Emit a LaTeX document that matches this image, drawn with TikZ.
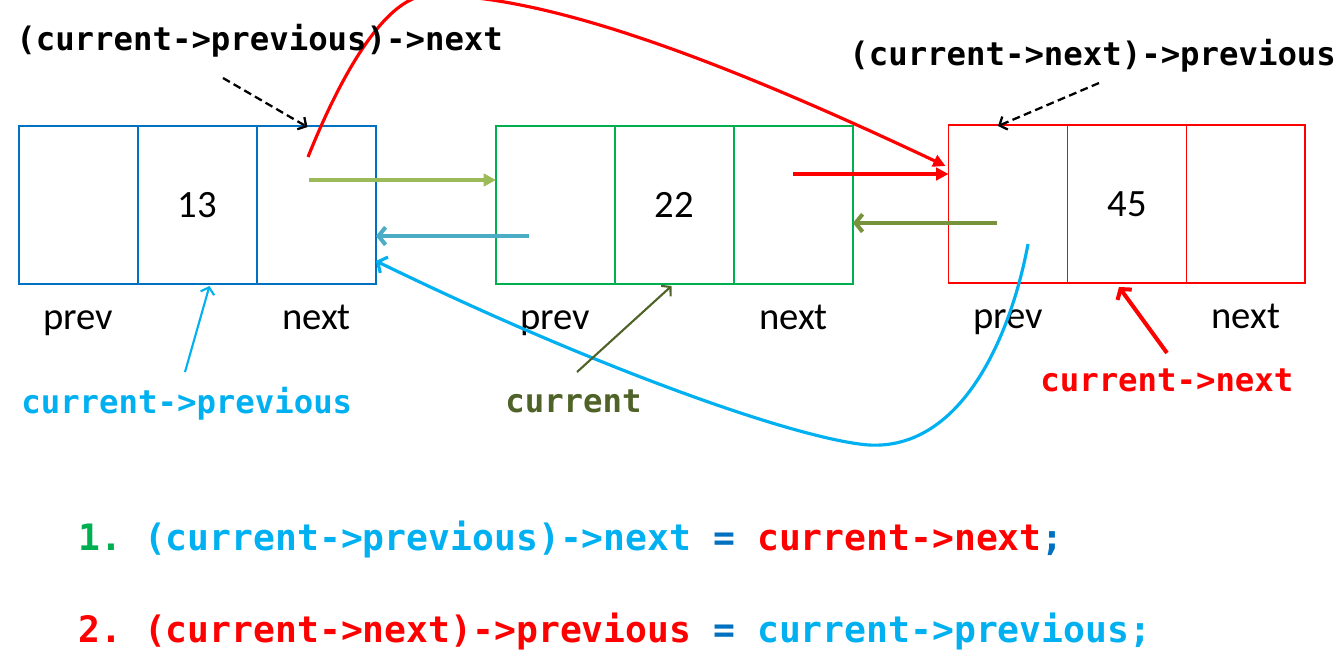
\documentclass[tikz,border=0pt]{standalone}
\usepackage{fontspec}
\setmainfont{Carlito}
\setmonofont{DejaVu Sans Mono}
\usepackage{tikz}
\usetikzlibrary{positioning}
\usetikzlibrary{calc}
\usetikzlibrary{arrows.meta}

\definecolor{boxblue}{HTML}{0070C0}
\definecolor{boxgreen}{HTML}{00B050}
\definecolor{skyblue}{HTML}{00B0F0}
\definecolor{ptrolive}{HTML}{4F6228}
\definecolor{arrgreen}{HTML}{9BBB59}
\definecolor{arrteal}{HTML}{4BACC6}
\definecolor{arrolive}{HTML}{77933C}

\tikzset{
    cell/.style={draw,minimum width=2.38cm,minimum height=3.16cm,
        inner sep=0pt,outer sep=0pt,line width=1.1pt,
        font=\fontsize{22}{26}\selectfont},
    fieldlbl/.style={anchor=base,inner sep=0pt,
        font=\fontsize{22}{26}\selectfont},
    code/.style={anchor=base west,inner sep=0pt,
        font=\ttfamily\bfseries\fontsize{18.4}{22}\selectfont},
    codebig/.style={anchor=base west,inner sep=0pt,
        font=\ttfamily\bfseries\fontsize{20.7}{25}\selectfont},
    linkfill/.style={line width=2.3pt,-{Triangle[length=7pt,width=7pt]}},
    linkopen/.style={line width=2.3pt,-{Straight Barb[length=4pt,width=10pt]}},
    curvelink/.style={line width=1.8pt},
    thinptr/.style={line width=1.2pt,-{Straight Barb[length=3.5pt,width=8pt]}},
    dashptr/.style={line width=1.3pt,dash pattern=on 4.5pt off 2.5pt,
        -{Straight Barb[length=3.5pt,width=8pt]}}
}

\begin{document}
\begin{tikzpicture}[x=0.02cm,y=-0.02cm]
    \useasboundingbox (0,0) rectangle (1344,664);

    % Node 13
    \node[cell,draw=boxblue] (n13prev) at (78.5,205) {};
    \node[cell,draw=boxblue,right=0pt of n13prev] (n13data) {13};
    \node[cell,draw=boxblue,right=0pt of n13data] (n13next) {};
    % Node 22
    \node[cell,draw=boxgreen] (n22prev) at (555.5,205) {};
    \node[cell,draw=boxgreen,right=0pt of n22prev] (n22data) {22};
    \node[cell,draw=boxgreen,right=0pt of n22data] (n22next) {};
    % Node 45
    \node[cell,draw=red] (n45prev) at (1008,204) {};
    \node[cell,draw=red,right=0pt of n45prev] (n45data) {45};
    \node[cell,draw=red,right=0pt of n45data] (n45next) {};

    % Field names
    \node[fieldlbl] (f13prev) at ($(n13prev.south)+(0,46)$) {prev};
    \node[fieldlbl] (f13next) at ($(n13next.south)+(0,46)$) {next};
    \node[fieldlbl] (f22prev) at ($(n22prev.south)+(0,46)$) {prev};
    \node[fieldlbl] (f22next) at ($(n22next.south)+(0,46)$) {next};
    \node[fieldlbl] (f45prev) at ($(n45prev.south)+(0,46)$) {prev};
    \node[fieldlbl] (f45next) at ($(n45next.south)+(0,46)$) {next};

    % Old links
    \coordinate (g13) at (309,180);
    \draw[linkfill,arrgreen] (g13) -- (g13 -| n22prev.west);
    \coordinate (t22) at (529,236);
    \draw[linkopen,arrteal] (t22) -- (t22 -| n13next.east);
    \coordinate (r22) at (793,174);
    \draw[linkfill,red] (r22) -- (r22 -| n45prev.west);
    \coordinate (o45) at (997,223);
    \draw[linkopen,arrolive] (o45) -- (o45 -| n22next.east);

    % New links
    \coordinate (rc13) at (308,157);
    \draw[curvelink,red,-{Triangle[length=7pt,width=7pt]}] (rc13)
        .. controls (332,97) and (380,-5) .. (430,-5)
        .. controls (540,-5) and (700,50) .. ($(n45prev.west)+(-3,-38)$);
    \coordinate (bc45) at (1028,244);
    \draw[curvelink,skyblue,-{Straight Barb[length=4pt,width=10pt]}] (bc45)
        .. controls (1010,340) and (960,450) .. (869,445)
        .. controls (800,440) and (600,370) .. ($(n13next.east)+(0,56)$);

    % Pointer names
    \node[code] (lbl13) at (16,50) {(current->previous)->next};
    \node[code] (lbl45) at (849,65) {(current->next)->previous};
    \node[code,text=skyblue] (cprev) at (21,413) {current->previous};
    \node[code,text=ptrolive] (cur) at (505,412) {current};
    \node[code,text=red] (cnext) at (1040,391) {current->next};

    \coordinate (d13) at (223,78);
    \draw[dashptr] (d13) -- ($(n13next.north)+(-9,1)$);
    \coordinate (d45) at (1099,83);
    \draw[dashptr] (d45) -- ($(n45prev.north)+(-10,1)$);
    \coordinate (p13) at (185,372);
    \draw[thinptr,skyblue] (p13) -- ($(n13data.south)+(12,2)$);
    \coordinate (p22) at (577,372);
    \draw[thinptr,ptrolive] (p22) -- ($(n22data.south)+(-3,2)$);
    \coordinate (p45) at (1167,353);
    \draw[linkopen,red] (p45) -- ($(n45data.south)+(-8,4)$);

    % Steps
    \node[codebig] (eqn1) at (78,550) {\textcolor{boxgreen}{1.}
        \textcolor{skyblue}{(current->previous)->next}
        \textcolor{boxblue}{=} \textcolor{red}{current->next}\textcolor{boxblue}{;}};
    \node[codebig] (eqn2) at (78,642) {\textcolor{red}{2.}
        \textcolor{red}{(current->next)->previous}
        \textcolor{boxblue}{=} \textcolor{skyblue}{current->previous;}};
\end{tikzpicture}
\end{document}
